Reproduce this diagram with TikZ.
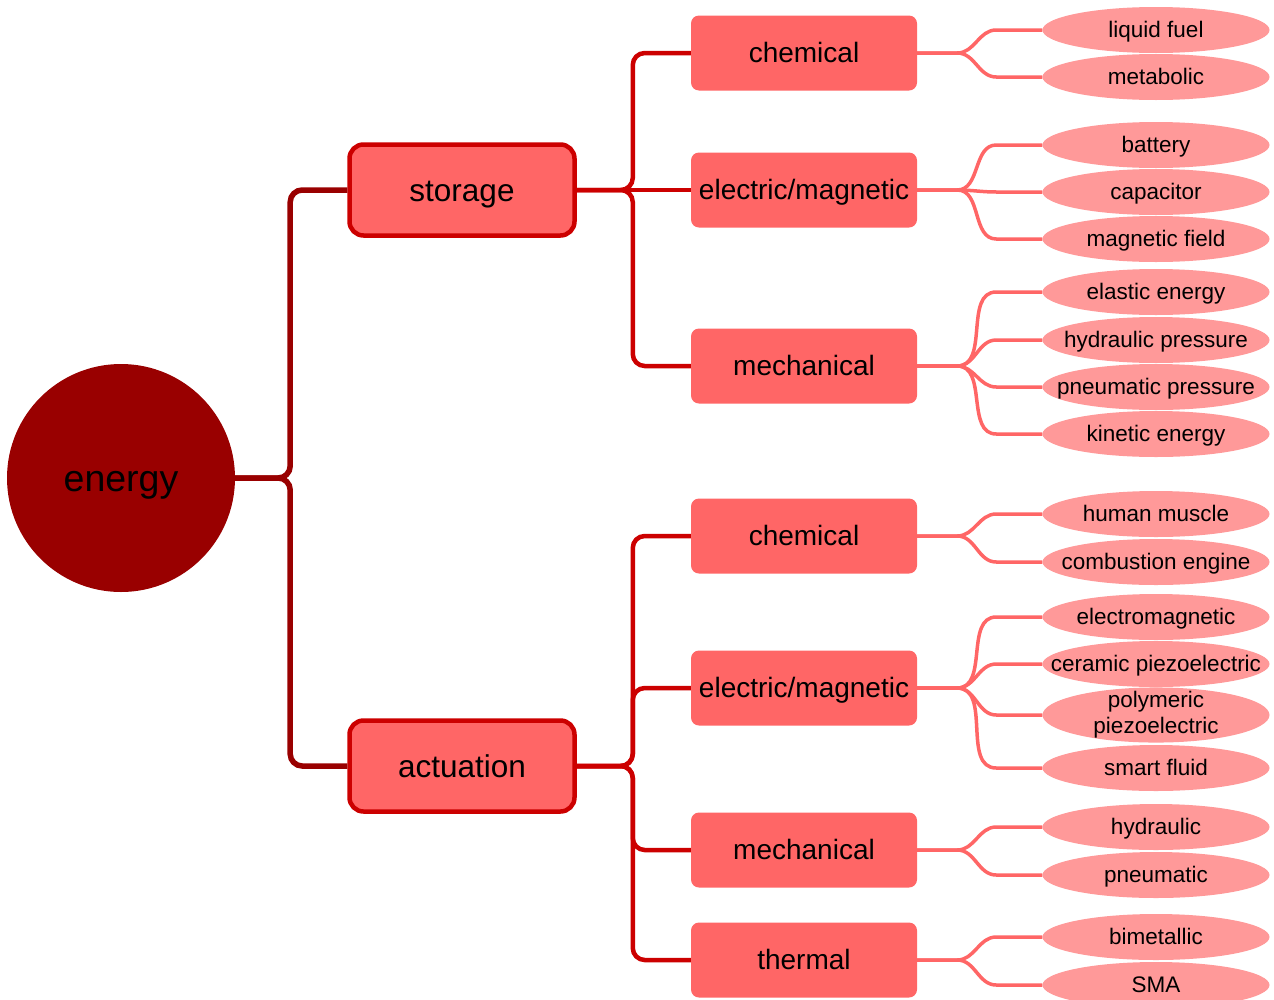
\documentclass[tikz,border=0pt]{standalone}
\usepackage{fontspec}
\setmainfont{Liberation Sans}
\usetikzlibrary{shapes.geometric}
\definecolor{rootred}{HTML}{990000}
\definecolor{midred}{HTML}{CC0000}
\definecolor{boxred}{HTML}{FF6666}
\definecolor{leafred}{HTML}{FF9999}

\begin{document}
\begin{tikzpicture}[x=1pt, y=-1pt,
		root/.style={circle, fill=rootred, minimum size=228pt, inner sep=0pt, text height=33.8pt, text depth=7.5pt, font=\fontsize{37.5}{45}\selectfont},
		branch/.style={rectangle, rounded corners=14pt, draw=midred, line width=4.5pt, fill=boxred, minimum width=225pt, minimum height=91pt, text height=28.4pt, text depth=6.3pt, font=\fontsize{31.5}{38}\selectfont},
		kind/.style={rectangle, rounded corners=8pt, fill=boxred, minimum width=226pt, minimum height=75pt, inner sep=0pt, text height=25.2pt, text depth=5.6pt, font=\fontsize{28}{34}\selectfont},
		leaf/.style={ellipse, fill=leafred, minimum width=227pt, minimum height=46pt, inner xsep=-28pt, inner ysep=-4pt, align=center, text height=20.3pt, text depth=4.5pt, font=\fontsize{22.5}{26}\selectfont},
		rootline/.style={draw=rootred, line width=5.5pt, rounded corners=12pt},
		branchline/.style={draw=midred, line width=4.5pt, rounded corners=12pt},
		leafline/.style={draw=boxred, line width=3.5pt}]
		\useasboundingbox (0,0) rectangle (1274,999);
		% root and first level
		\node[root] (energy) at (121,478) {energy};
		\node[branch] (storage) at (462,190) {storage};
		\node[branch] (actuation) at (462,766) {actuation};
		\draw[rootline] (energy.east) -- ++(55,0) |- (storage.west);
		\draw[rootline] (energy.east) -- ++(55,0) |- (actuation.west);
		% second level
		\node[kind] (sc) at (804,53) {chemical};
		\node[kind] (se) at (804,190) {electric/magnetic};
		\node[kind] (sm) at (804,366) {mechanical};
		\node[kind] (ac) at (804,536) {chemical};
		\node[kind] (ae) at (804,688) {electric/magnetic};
		\node[kind] (am) at (804,850) {mechanical};
		\node[kind] (at) at (804,960) {thermal};
		\foreach \k in {sc,sm} \draw[branchline] (storage.east) -- ++(56,0) |- (\k.west);
		\draw[branchline] (storage.east) -- (se.west);
		\foreach \k in {ac,ae,am,at} \draw[branchline] (actuation.east) -- ++(56,0) |- (\k.west);
		% third level
		\foreach \p/\n/\y/\txt in {sc/lf/30/liquid fuel, sc/mb/77/metabolic,
				se/bt/145/battery, se/cp/192/capacitor, se/mf/239/magnetic field,
				sm/ee/292/elastic energy, sm/hp/340/hydraulic pressure, sm/pp/387/pneumatic pressure, sm/ke/434/kinetic energy,
				ac/hm/514/human muscle, ac/ce/562/combustion engine,
				ae/em/617/electromagnetic, ae/cz/664/ceramic piezoelectric, ae/sf/768/smart fluid,
				am/hy/827/hydraulic, am/pn/875/pneumatic,
				at/bm/937/bimetallic, at/sa/985/SMA} {
			\node[leaf] (\n) at (1156,\y) {\txt};
			\draw[leafline] (\p.east) -- ++(40,0) to[out=0,in=180] ([xshift=-46pt]\n.west) -- (\n.west);
		}
		% two lines, natural height
		\node[leaf, text height=, text depth=] (pz) at (1156,715) {polymeric\\piezoelectric};
		\draw[leafline] (ae.east) -- ++(40,0) to[out=0,in=180] ([xshift=-46pt]pz.west) -- (pz.west);
	\end{tikzpicture}
\end{document}
